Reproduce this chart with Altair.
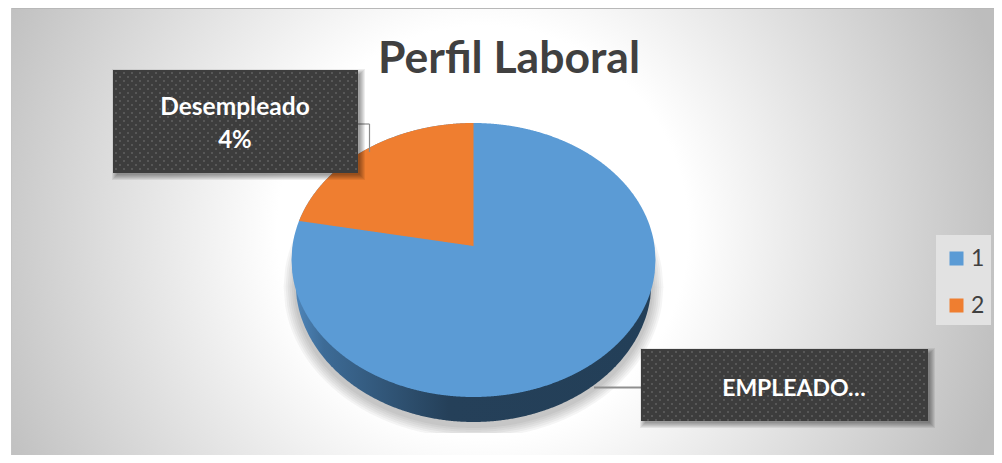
import math
import numpy as np
import pandas as pd
import altair as alt

# ---- chart content ----
TITLE = "Perfil Laboral"
SERIES = ["1", "2"]
SHARES = [78, 22]
LABEL_2 = ["Desempleado", "4%"]
LABEL_1 = "EMPLEADO…"

# ---- layout (page pixels) ----
W, H = 986, 447
OX, OY = 8, 8
CX, CY, RX, RY = 473.5, 260.0, 182.0, 137.0
APEX_Y = 246.0
LOW_CY, LOW_RX, LOW_RY = 282.0, 178.0, 140.0
BLUE, ORANGE = "#5b9bd5", "#ef7e30"
BOX_2 = (113, 358, 70, 173)
BOX_1 = (641, 928, 349, 421)

xs = alt.Scale(domain=[OX, OX + W], range=[0, W])
ys = alt.Scale(domain=[OY, OY + H], range=[0, H])
X = lambda f="x": alt.X(f"{f}:Q", scale=xs, axis=None)
Y = lambda f="y": alt.Y(f"{f}:Q", scale=ys, axis=None)


def vx(v):
    return alt.value(v - OX)


def vy(v):
    return alt.value(v - OY)


def half(x, cx, rx, ry):
    return ry * np.sqrt(np.clip(1 - ((x - cx) / rx) ** 2, 0, 1))


def page_rect(x0, x1, y0, y1, **kw):
    return alt.Chart(pd.DataFrame({"a": [0]})).mark_rect(**kw).encode(
        x=vx(x0), x2=vx(x1), y=vy(y0), y2=vy(y1))


def page_text(t, x, y, **kw):
    return alt.Chart(pd.DataFrame({"t": [t]})).mark_text(**kw).encode(
        x=vx(x), y=vy(y), text="t:N")


def page_rule(x0, x1, y0, y1, **kw):
    return alt.Chart(pd.DataFrame({"a": [0]})).mark_rule(**kw).encode(
        x=vx(x0), x2=vx(x1), y=vy(y0), y2=vy(y1))


# background
bg = page_rect(11, OX + W, OY, OY + H, fill=alt.RadialGradient(
    gradient="radial", x1=0.48, y1=0.5, x2=0.48, y2=0.5, r1=0, r2=0.55,
    stops=[alt.GradientStop(color="#ffffff", offset=0),
           alt.GradientStop(color="#ffffff", offset=0.38),
           alt.GradientStop(color="#bdbdbd", offset=1)]))
top_line = page_rule(11, OX + W, 8.5, 8.5, color="#b8b8b8", strokeWidth=1)
left_line = page_rule(11.5, 11.5, OY, OY + H, color="#c4c4c4", strokeWidth=1)
legend_bg = page_rect(936, 991, 235, 325, fill="#e2e2e2")

# soft shadow under the pie
shadow_layers = []
for grow in [2, 4, 6, 8, 10, 12]:
    rx, ry = LOW_RX + grow, LOW_RY + grow
    px = np.linspace(CX - rx, CX + rx, 240)
    h = half(px, CX, rx, ry)
    d = pd.DataFrame({"x": px, "y": LOW_CY + 6 - h,
                      "y2": np.minimum(LOW_CY + 4 + h, 433)})
    shadow_layers.append(alt.Chart(d).mark_area(color="#000000", opacity=0.04).encode(
        x=X(), y=Y(), y2="y2:Q"))

# side wall of the disc
sx = np.linspace(CX - LOW_RX - 0.0, CX + LOW_RX, 300)
side_df = pd.DataFrame({"x": sx, "y": np.full_like(sx, CY),
                        "y2": LOW_CY + half(sx, CX, LOW_RX, LOW_RY)})
side = alt.Chart(side_df).mark_area(fill=alt.LinearGradient(
    gradient="linear", x1=0, y1=0, x2=1, y2=0,
    stops=[alt.GradientStop(color="#4f86ba", offset=0),
           alt.GradientStop(color="#3d6b96", offset=0.08),
           alt.GradientStop(color="#254059", offset=0.43),
           alt.GradientStop(color="#233f58", offset=1)])).encode(
    x=X(), y=Y(), y2="y2:Q")

# top face: whole ellipse for series 1, sector on top for series 2
fx = np.linspace(CX - RX, CX + RX, 500)
h = half(fx, CX, RX, RY)
face1 = pd.DataFrame({"x": fx, "y": CY - h, "y2": CY + h, "series": SERIES[0]})

ang = 2 * math.pi * SHARES[1] / sum(SHARES)
dirx, diry = -math.sin(ang), -math.cos(ang) * RY / RX
a = (dirx / RX) ** 2 + (diry / RY) ** 2
b = 2 * (APEX_Y - CY) * diry / RY ** 2
c = ((APEX_Y - CY) / RY) ** 2 - 1
t = (-b + math.sqrt(b * b - 4 * a * c)) / (2 * a)
ex, ey = CX + t * dirx, APEX_Y + t * diry
ox = np.linspace(ex, CX, 250)
face2 = pd.DataFrame({"x": ox, "y": CY - half(ox, CX, RX, RY),
                      "y2": APEX_Y + (CX - ox) / (CX - ex) * (ey - APEX_Y),
                      "series": SERIES[1]})
faces = alt.Chart(pd.concat([face1, face2])).mark_area(opacity=1).encode(
    x=X(), y=Y(), y2="y2:Q",
    color=alt.Color("series:N",
                    scale=alt.Scale(domain=SERIES, range=[BLUE, ORANGE]),
                    legend=alt.Legend(orient="none", legendX=936 - OX, legendY=238 - OY,
                                      title=None, symbolType="square", symbolSize=196,
                                      symbolStrokeWidth=0, symbolOpacity=1,
                                      labelFont="Lato", labelFontSize=23, labelColor="#404040",
                                      labelOffset=3, rowPadding=23, padding=9)))

# leader lines
lead = [
    page_rule(358, 369.5, 124, 124, color="#8a8a8a", strokeWidth=1.2),
    page_rule(369.5, 369.5, 124, 152, color="#8a8a8a", strokeWidth=1.2),
    page_rule(594, 641, 387.5, 387.5, color="#8f8f8f", strokeWidth=1.8),
]


def box(b):
    x0, x1, y0, y1 = b
    out = []
    for g in [7, 6, 5, 4, 3, 2]:
        out.append(page_rect(x0 + 6 - g, x1 + g, y0 + 6 - g, y1 + g,
                             fill="#000000", opacity=0.07))
    out.append(page_rect(x0, x1, y0, y1, fill="#3d3d3d"))
    dots = []
    for r, yy in enumerate(np.arange(y0 + 3, y1, 4.0)):
        for xx in np.arange(x0 + 3 + (r % 2) * 4, x1, 8.0):
            dots.append((xx, yy))
    dd = pd.DataFrame(dots, columns=["x", "y"])
    out.append(alt.Chart(dd).mark_square(size=4, color="#575757", opacity=1).encode(x=X(), y=Y()))
    return out


txt = dict(font="Lato", fontWeight="bold", color="#ffffff", align="center", baseline="middle")
labels = [
    page_text(LABEL_2[0], 235, 108, fontSize=24.5, **txt),
    page_text(LABEL_2[1], 235, 141, fontSize=24, **txt),
    page_text(LABEL_1, 794, 389, fontSize=23, **txt),
]
title = page_text(TITLE, 509, 60, font="Lato", fontWeight="bold", color="#404040",
                  align="center", baseline="middle", fontSize=44.5)

chart = alt.layer(bg, top_line, left_line, legend_bg, *shadow_layers, side, faces, *lead,
                  *box(BOX_2), *box(BOX_1), *labels, title).properties(
    width=W, height=H, padding=0, autosize="none", background="white"
).configure_view(stroke=None)

chart.save("out.html", embed_options={"renderer": "svg", "actions": False})
